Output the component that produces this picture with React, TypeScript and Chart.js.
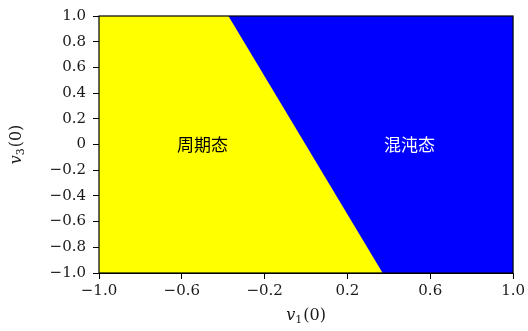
import React, { useEffect, useRef } from "react";
import { Chart, registerables } from "chart.js";

Chart.register(...registerables);

// Domain of the initial conditions
const v1Range = [-1.0, 1.0];
const v3Range = [-1.0, 1.0];

// Boundary between periodic and chaotic regions: v1(0) at v3(0) = 1 and v3(0) = -1
const boundaryV3 = [1.0, -1.0];
const boundaryV1 = [-0.375, 0.37];

// Tick values and labels
const xTickValues = [-1.0, -0.6, -0.2, 0.2, 0.6, 1.0];
const xTickLabels = ["\u22121.0", "\u22120.6", "\u22120.2", "0.2", "0.6", "1.0"];
const yTickValues = [-1.0, -0.8, -0.6, -0.4, -0.2, 0, 0.2, 0.4, 0.6, 0.8, 1.0];
const yTickLabels = ["\u22121.0", "\u22120.8", "\u22120.6", "\u22120.4", "\u22120.2", "0", "0.2", "0.4", "0.6", "0.8", "1.0"];

// Region annotations
const regionLabels = ["周期态", "混沌态"];
const regionLabelV1 = [-0.5, 0.5];
const regionLabelV3 = [0, 0];
const regionLabelColors = ["#000000", "#ffffff"];

const SERIF = "'DejaVu Serif', 'Liberation Serif', serif";

function drawMathTitle(ctx: CanvasRenderingContext2D, sub: string, cx: number, cy: number, rotate: boolean) {
  const big = "16px " + SERIF;
  const bigItalic = "italic 16px " + SERIF;
  const small = "11px " + SERIF;
  ctx.save();
  ctx.translate(cx, cy);
  if (rotate) ctx.rotate(-Math.PI / 2);
  ctx.fillStyle = "#1a1a1a";
  ctx.textBaseline = "alphabetic";
  ctx.textAlign = "left";
  ctx.font = bigItalic;
  const wv = ctx.measureText("v").width;
  ctx.font = small;
  const ws = ctx.measureText(sub).width;
  ctx.font = big;
  const wp = ctx.measureText("(0)").width;
  const total = wv + ws + 1 + wp;
  let x = -total / 2;
  const base = 5;
  ctx.font = bigItalic;
  ctx.fillText("v", x, base);
  x += wv;
  ctx.font = small;
  ctx.fillText(sub, x, base + 3);
  x += ws + 1;
  ctx.font = big;
  ctx.fillText("(0)", x, base);
  ctx.restore();
}

const decorPlugin = {
  id: "decor",
  afterDatasetsDraw(chart: any) {
    const ctx = chart.ctx as CanvasRenderingContext2D;
    const xs = chart.scales.x;
    const ys = chart.scales.y;
    ctx.save();
    ctx.font = "17px 'Noto Sans CJK SC', sans-serif";
    ctx.textAlign = "center";
    ctx.textBaseline = "middle";
    for (let i = 0; i < regionLabels.length; i++) {
      ctx.fillStyle = regionLabelColors[i];
      ctx.fillText(regionLabels[i], xs.getPixelForValue(regionLabelV1[i]), ys.getPixelForValue(regionLabelV3[i]));
    }
    ctx.restore();
  },
  afterDraw(chart: any) {
    const ctx = chart.ctx as CanvasRenderingContext2D;
    const a = chart.chartArea;
    ctx.save();
    ctx.strokeStyle = "#000";
    ctx.lineWidth = 1.2;
    ctx.strokeRect(a.left, a.top, a.right - a.left, a.bottom - a.top);
    ctx.restore();
    drawMathTitle(ctx, "1", (a.left + a.right) / 2, 315, false);
    drawMathTitle(ctx, "3", 16, (a.top + a.bottom) / 2, true);
  },
};

export default function App() {
  const ref = useRef<HTMLCanvasElement | null>(null);
  useEffect(() => {
    if (!ref.current) return;
    const periodic = [
      { x: v1Range[0], y: v3Range[1] },
      { x: boundaryV1[0], y: boundaryV3[0] },
      { x: boundaryV1[1], y: boundaryV3[1] },
    ];
    const chaotic = [
      { x: v1Range[0], y: v3Range[1] },
      { x: v1Range[1], y: v3Range[1] },
    ];
    const tickFont = { family: SERIF, size: 15 };
    const chart = new Chart(ref.current, {
      type: "line",
      data: {
        datasets: [
          {
            label: "周期态",
            data: periodic,
            backgroundColor: "#ffff00",
            borderColor: "#ffff00",
            borderWidth: 0,
            pointRadius: 0,
            fill: "start",
            tension: 0,
          },
          {
            label: "混沌态",
            data: chaotic,
            backgroundColor: "#0000ff",
            borderColor: "#0000ff",
            borderWidth: 0,
            pointRadius: 0,
            fill: "start",
            tension: 0,
          },
        ],
      },
      options: {
        responsive: false,
        animation: false,
        layout: { padding: { top: 16, right: 13, left: 0, bottom: 0 } },
        plugins: { legend: { display: false }, tooltip: { enabled: false } },
        scales: {
          x: {
            type: "linear",
            min: v1Range[0],
            max: v1Range[1],
            afterBuildTicks: (s: any) => {
              s.ticks = xTickValues.map((v) => ({ value: v }));
            },
            afterFit: (s: any) => {
              s.height = 58;
            },
            ticks: {
              autoSkip: false,
              maxRotation: 0,
              color: "#1a1a1a",
              font: tickFont,
              padding: 3,
              callback: (_v: any, i: number) => xTickLabels[i],
            },
            grid: { drawOnChartArea: false, drawTicks: true, tickLength: 6, color: "#000" },
            border: { display: true, color: "#000" },
          },
          y: {
            type: "linear",
            min: v3Range[0],
            max: v3Range[1],
            afterBuildTicks: (s: any) => {
              s.ticks = yTickValues.map((v) => ({ value: v }));
            },
            afterFit: (s: any) => {
              s.width = 99;
            },
            ticks: {
              autoSkip: false,
              color: "#1a1a1a",
              font: tickFont,
              padding: 7,
              callback: (_v: any, i: number) => yTickLabels[i],
            },
            grid: { drawOnChartArea: false, drawTicks: true, tickLength: 6, color: "#000" },
            border: { display: true, color: "#000" },
          },
        },
      },
      plugins: [decorPlugin],
    } as any);
    return () => chart.destroy();
  }, []);
  return (
    <div style={{ position: "absolute", left: 0, top: 0, width: 528, height: 331, background: "#fff" }}>
      <canvas ref={ref} width={528} height={331} />
    </div>
  );
}
